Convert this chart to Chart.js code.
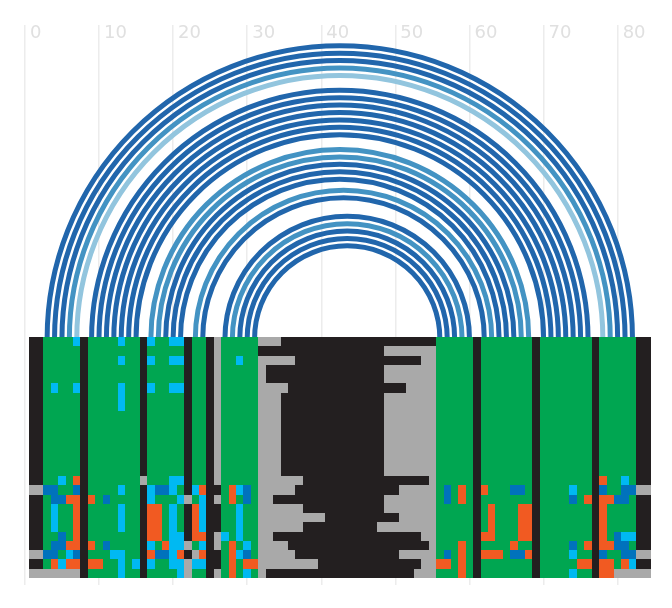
<!DOCTYPE html>
<html>
<head>
<meta charset="utf-8">
<style>
html, body { margin: 0; padding: 0; background: #fff; }
#wrap { width: 672px; height: 608px; }
</style>
<script src="https://cdn.jsdelivr.net/npm/chart.js@4"></script>
</head>
<body>
<div id="wrap"><canvas id="chart_arcs"></canvas></div>
<script>
// sequence positions, groups are only spaced out for reading
var alignment = [
    "-- AAAAC - AAAACAA - CAACC - AA - . AAAAA ...--------------------- AAAAA - AAAAAAA - AAAAAAA - AAAAA --",
    "-- AAAAA - AAAAAAA - AAAAA - AA - . AAAAA -----------------....... AAAAA - AAAAAAA - AAAAAAA - AAAAA --",
    "-- AAAAA - AAAACAA - CAACC - AA - . AACAA .....-----------------.. AAAAA - AAAAAAA - AAAAAAA - AAAAA --",
    "-- AAAAA - AAAAAAA - AAAAA - AA - . AAAAA .----------------....... AAAAA - AAAAAAA - AAAAAAA - AAAAA --",
    "-- AAAAA - AAAAAAA - AAAAA - AA - . AAAAA .----------------....... AAAAA - AAAAAAA - AAAAAAA - AAAAA --",
    "-- ACAAC - AAAACAA - CAACC - AA - . AAAAA ....----------------.... AAAAA - AAAAAAA - AAAAAAA - AAAAA --",
    "-- AAAAA - AAAACAA - AAAAA - AA - . AAAAA ...--------------....... AAAAA - AAAAAAA - AAAAAAA - AAAAA --",
    "-- AAAAA - AAAACAA - AAAAA - AA - . AAAAA ...--------------....... AAAAA - AAAAAAA - AAAAAAA - AAAAA --",
    "-- AAAAA - AAAAAAA - AAAAA - AA - . AAAAA ...--------------....... AAAAA - AAAAAAA - AAAAAAA - AAAAA --",
    "-- AAAAA - AAAAAAA - AAAAA - AA - . AAAAA ...--------------....... AAAAA - AAAAAAA - AAAAAAA - AAAAA --",
    "-- AAAAA - AAAAAAA - AAAAA - AA - . AAAAA ...--------------....... AAAAA - AAAAAAA - AAAAAAA - AAAAA --",
    "-- AAAAA - AAAAAAA - AAAAA - AA - . AAAAA ...--------------....... AAAAA - AAAAAAA - AAAAAAA - AAAAA --",
    "-- AAAAA - AAAAAAA - AAAAA - AA - . AAAAA ...--------------....... AAAAA - AAAAAAA - AAAAAAA - AAAAA --",
    "-- AAAAA - AAAAAAA - AAAAA - AA - . AAAAA ...--------------....... AAAAA - AAAAAAA - AAAAAAA - AAAAA --",
    "-- AAAAA - AAAAAAA - AAAAA - AA - . AAAAA ...--------------....... AAAAA - AAAAAAA - AAAAAAA - AAAAA --",
    "-- AACAG - AAAAAAA . AAACC - AA - . AAAAA ......-----------------. AAAAA - AAAAAAA - AAAAAAA - GAACA --",
    ".. UUAAU - AAAACAA - CUUCA - CG - - AGCUA .....--------------..... AUAGA - GAAAUUA - AAAACAA - UAAUU ..",
    "-- AUUGG - GAUAAAA - CAAAC . AC - . AGAUA ..---------------....... AUAGA - AAAAAAA - AAAAUAG - GGUUA --",
    "-- ACAAG - AAAACAA - GGACA - GC - - AACAA ......-----------....... AAAAA - AGAAAGG - AAAAAAA - GAAAA --",
    "-- ACAAG - AAAACAA - GGACA - GC - - AACAA .........----------..... AAAAA - AGAAAGG - AAAAAAA - GAAAA --",
    "-- ACAAG - AAAACAA - GGACA - GC - - AACAA ......----------........ AAAAA - AGAAAGG - AAAAAAA - GAAAA --",
    "-- AAUAG - AAAAAAA - GGACC - GG - . CACAA ..--------------------.. AAAAA - GGAAAGG - AAAAAAA - GAUCC --",
    "-- AUUGG - GAUAAAA - CAGCC . AC - . AGACA ....-------------------. AAAGA - AAAAGAA - AAAAUAG - GGUUA --",
    ".. UUACU - AAACCAA - GUUCG - .G - - AGCUA .....--------------..... AUAGA - GGGAUUG - AAAACAA - UAAUU ..",
    "-- AGCGG - GGAACAC - CAACC . CC - - AGAGG ........--------------.. GGAGA - AAAAAAA - AAAAAGG - GGAGC --",
    ".. ..... - AAAACAA - AAAAC . AA - . AGACA .--------------------... AAAGA - AAAAAAA - AAAACAA - GG... .."
];

var baseColors = {
    "A": "#00a651",
    "C": "#00b9f2",
    "U": "#0072bc",
    "G": "#f15a22",
    "-": "#231f20",
    ".": "#a9a9a9"
};

// base pairs: [start, end]
var pairs_dark = [[3,82],[4,81],[5,80],[9,76],[10,75],[11,74],[12,73],[13,72],[14,71],[15,70],
    [19,66],[20,65],[21,64],[24,62],[27,60],[29,58],[30,57],[31,56]];
var pairs_mid = [[6,79],[17,68],[18,67],[23,63],[28,59]];
var pairs_light = [[7,78]];

var tickStep = 10;

function cellData(row, r)
{
    return row.replace(/ /g, "").split("").map(function(b, c) {
        return { x: c + 1, y: [r, r + 1], base: b };
    });
}

function arcDatasets(pairs, color)
{
    return pairs.map(function(p) {
        return {
            type: 'scatter',
            isArc: true,
            borderColor: color,
            backgroundColor: color,
            pointRadius: 0,
            showLine: false,
            data: [{ x: p[0], y: 0 }, { x: p[1], y: 0 }]
        };
    });
}

var cellDatasets = alignment.map(function(row, r) {
    var cells = cellData(row, r);
    return {
        type: 'bar',
        data: cells,
        backgroundColor: cells.map(function(d) { return baseColors[d.base]; }),
        barPercentage: 1,
        categoryPercentage: 1,
        borderWidth: 0,
        inflateAmount: 0,
        grouped: false
    };
});

// alignment cells sit on whole pixels, the arcs are stroked between their two points
var arcPlugin = {
    id: 'arcPlugin',
    afterDatasetsUpdate: function(chart) {
        chart.data.datasets.forEach(function(ds, i) {
            if (ds.isArc) return;
            chart.getDatasetMeta(i).data.forEach(function(el) {
                var left = Math.round(el.x - el.width / 2);
                var right = Math.round(el.x + el.width / 2);
                el.width = right - left;
                el.x = left + el.width / 2;
                el.y = Math.round(el.y);
                el.base = Math.round(el.base);
            });
        });
    },
    beforeDatasetsDraw: function(chart) {
        var ctx = chart.ctx;
        ctx.save();
        ctx.lineWidth = 5;
        chart.data.datasets.forEach(function(ds, i) {
            if (!ds.isArc) return;
            var pts = chart.getDatasetMeta(i).data;
            ctx.strokeStyle = ds.borderColor;
            ctx.beginPath();
            ctx.arc((pts[0].x + pts[1].x) / 2, pts[0].y + 1.5, Math.abs(pts[1].x - pts[0].x) / 2, Math.PI, 2 * Math.PI);
            ctx.stroke();
        });
        ctx.restore();
    }
};

new Chart(document.getElementById('chart_arcs'), {
    type: 'bar',
    data: {
        datasets: cellDatasets.concat(
            arcDatasets(pairs_dark, '#2166ac'),
            arcDatasets(pairs_mid, '#4393c3'),
            arcDatasets(pairs_light, '#92c5de')
        )
    },
    plugins: [arcPlugin],
    options: {
        responsive: true,
        maintainAspectRatio: false,
        animation: false,
        layout: { padding: { left: 24.9, right: 21, top: 25, bottom: 23 } },
        plugins: { legend: { display: false }, tooltip: { enabled: false } },
        scales: {
            x: {
                type: 'linear',
                position: 'top',
                offset: false,
                min: 0,
                max: 84.5,
                afterFit: function(scale) { scale.height = 0; },
                border: { display: false },
                grid: { offset: false, color: '#ececec', lineWidth: 1.5, drawTicks: false },
                ticks: {
                    stepSize: tickStep,
                    includeBounds: false,
                    align: 'start',
                    mirror: true,
                    labelOffset: 5,
                    padding: -2,
                    maxRotation: 0,
                    color: '#e0e0e0',
                    font: { family: 'DejaVu Sans', size: 18 }
                }
            },
            y: {
                display: false,
                reverse: true,
                min: -33.66,
                max: 26.76
            }
        }
    }
});
</script>
</body>
</html>
